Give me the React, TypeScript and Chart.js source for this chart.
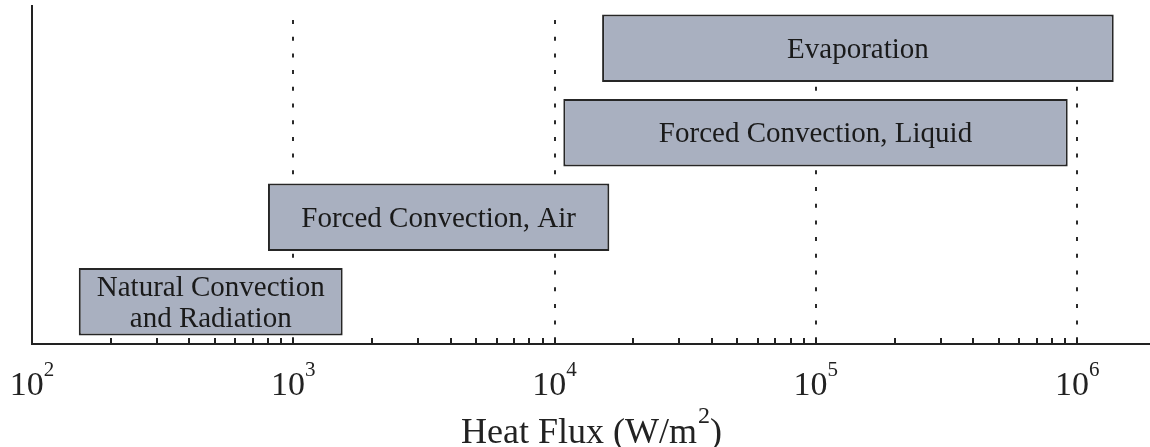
import React, { useEffect, useRef } from "react";
import { Chart, registerables } from "chart.js";

Chart.register(...registerables);

// ---- data ----
const categories = [
  "Evaporation",
  "Forced Convection, Liquid",
  "Forced Convection, Air",
  "Natural Convection and Radiation",
];
const labelLines = [
  ["Evaporation"],
  ["Forced Convection, Liquid"],
  ["Forced Convection, Air"],
  ["Natural Convection", "and Radiation"],
];
const fluxLow = [15200, 10800, 800, 151];
const fluxHigh = [1380000, 920000, 16200, 1545];
const axisMin = 100;
const axisMax = 1900000;
const majorExponents = [2, 3, 4, 5, 6];
const gridDecades = [1e3, 1e4, 1e5, 1e6];
const minorMultipliers = [2, 3, 4, 5, 6, 7, 8, 9, 10];
const axisTitleMain = "Heat Flux (W/m";
const axisTitleSup = "2";
const axisTitleEnd = ")";

const FONT = '"Liberation Serif", "Times New Roman", serif';
const INK = "#222222";

const overlay = {
  id: "overlay",
  beforeDatasetsDraw(chart: any) {
    const { ctx, chartArea, scales } = chart;
    const xs = scales.x;
    ctx.save();
    ctx.strokeStyle = "#2a2a2a";
    ctx.lineWidth = 2;
    ctx.setLineDash([4, 12.7]);
    for (const v of gridDecades) {
      const px = Math.round(xs.getPixelForValue(v));
      ctx.beginPath();
      ctx.moveTo(px, chartArea.top + 14);
      ctx.lineTo(px, chartArea.bottom);
      ctx.stroke();
    }
    ctx.restore();
  },
  afterDatasetsDraw(chart: any) {
    const { ctx, chartArea, scales } = chart;
    const xs = scales.x;
    ctx.save();

    // bar labels
    const meta = chart.getDatasetMeta(0);
    ctx.fillStyle = "#1a1a1a";
    ctx.font = `29px ${FONT}`;
    ctx.textAlign = "center";
    ctx.textBaseline = "alphabetic";
    const lineH = 31;
    const cap = 29 * 0.64;
    meta.data.forEach((bar: any, i: number) => {
      const { x, base, y } = bar.getProps(["x", "base", "y"], true);
      const cx = (x + base) / 2;
      const lines = labelLines[i];
      const blockH = cap + (lines.length - 1) * lineH;
      const firstBaseline = y - blockH / 2 + cap;
      lines.forEach((t, k) => {
        ctx.fillText(t, cx, firstBaseline + k * lineH);
      });
    });

    // minor/major ticks pointing upward from the axis
    ctx.strokeStyle = INK;
    ctx.lineWidth = 2;
    for (const e of majorExponents) {
      for (const m of minorMultipliers) {
        const v = m * Math.pow(10, e);
        if (v > axisMax) continue;
        const px = Math.round(xs.getPixelForValue(v));
        ctx.beginPath();
        ctx.moveTo(px, chartArea.bottom);
        ctx.lineTo(px, chartArea.bottom - 6);
        ctx.stroke();
      }
    }

    // tick labels 10^n
    ctx.fillStyle = INK;
    ctx.textAlign = "left";
    const baseY = chartArea.bottom + 51;
    const supY = chartArea.bottom + 32;
    for (const e of majorExponents) {
      const px = xs.getPixelForValue(Math.pow(10, e));
      ctx.font = `34px ${FONT}`;
      const w1 = ctx.measureText("10").width;
      ctx.font = `21px ${FONT}`;
      const w2 = ctx.measureText(String(e)).width;
      const left = px - (w1 + w2) / 2;
      ctx.font = `34px ${FONT}`;
      ctx.fillText("10", left, baseY);
      ctx.font = `21px ${FONT}`;
      ctx.fillText(String(e), left + w1, supY);
    }

    // axis title
    const cxTitle = (chartArea.left + chartArea.right) / 2;
    ctx.font = `36px ${FONT}`;
    const a = ctx.measureText(axisTitleMain).width;
    const c = ctx.measureText(axisTitleEnd).width;
    ctx.font = `24px ${FONT}`;
    const b = ctx.measureText(axisTitleSup).width;
    const tl = cxTitle - (a + b + c) / 2;
    const tY = chartArea.bottom + 99;
    ctx.font = `36px ${FONT}`;
    ctx.fillText(axisTitleMain, tl, tY);
    ctx.fillText(axisTitleEnd, tl + a + b + 1, tY);
    ctx.font = `24px ${FONT}`;
    ctx.fillText(axisTitleSup, tl + a + 1, tY - 20);

    ctx.restore();
  },
};

export default function App() {
  const ref = useRef<HTMLCanvasElement | null>(null);

  useEffect(() => {
    if (!ref.current) return;
    const chart = new Chart(ref.current, {
      type: "bar",
      data: {
        labels: categories,
        datasets: [
          {
            data: categories.map((_, i) => [fluxLow[i], fluxHigh[i]]) as any,
            backgroundColor: "#a9b0c0",
            borderColor: "#262626",
            borderWidth: 2,
            borderSkipped: false,
            categoryPercentage: 1,
            barPercentage: 0.8,
          },
        ],
      },
      options: {
        indexAxis: "y",
        responsive: false,
        animation: false,
        layout: { padding: { top: 6, left: 0, right: 0, bottom: 0 } },
        plugins: {
          legend: { display: false },
          tooltip: { enabled: false },
          title: { display: false },
        },
        scales: {
          x: {
            type: "logarithmic",
            min: axisMin,
            max: axisMax,
            grid: { display: false, drawTicks: false },
            border: { display: true, color: INK, width: 2 },
            ticks: { display: false },
            afterFit: (s: any) => {
              s.height = 103;
            },
          },
          y: {
            type: "category",
            grid: { display: false, drawTicks: false },
            border: { display: true, color: INK, width: 2 },
            ticks: { display: false },
            afterFit: (s: any) => {
              s.width = 32;
            },
          },
        },
      } as any,
      plugins: [overlay],
    });
    return () => chart.destroy();
  }, []);

  return (
    <div style={{ position: "fixed", left: 0, top: 0, width: 1150, height: 447, background: "#fff" }}>
      <canvas ref={ref} width={1150} height={447} style={{ display: "block" }} />
    </div>
  );
}
